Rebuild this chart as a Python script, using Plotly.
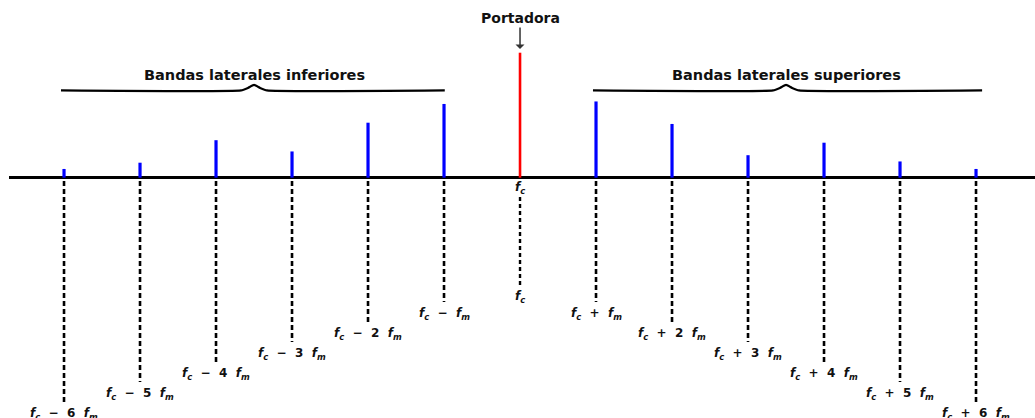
import plotly.graph_objects as go

# Spectrum of an FM signal: carrier plus six side-band pairs
harmonics = [-6, -5, -4, -3, -2, -1, 0, 1, 2, 3, 4, 5, 6]
amplitudes = [0.07, 0.12, 0.30, 0.21, 0.44, 0.59, 1.00, 0.61, 0.43, 0.18, 0.28, 0.13, 0.07]
freq_labels = [
    "f_c − 6 f_m", "f_c − 5 f_m", "f_c − 4 f_m", "f_c − 3 f_m", "f_c − 2 f_m", "f_c − f_m",
    "f_c",
    "f_c + f_m", "f_c + 2 f_m", "f_c + 3 f_m", "f_c + 4 f_m", "f_c + 5 f_m", "f_c + 6 f_m",
]
carrier_title = "Portadora"
lower_title = "Bandas laterales inferiores"
upper_title = "Bandas laterales superiores"

# layout constants (y in carrier-amplitude units)
LEADER_TOP = -0.026
LEADER_BASE = -0.834
LEADER_STEP = 0.16
LABEL_GAP = 0.096
BRACE_Y = 0.698
BRACE_PEAK = 0.742
TITLE_Y = 0.82


def rich(label):
    """Render 'f_c − 2 f_m' style text with italic f and subscripts."""
    parts = []
    for tok in label.split(" "):
        if tok.startswith("f_"):
            parts.append("<i>f</i><sub><i>%s</i></sub>" % tok[2:])
        else:
            parts.append(tok)
    return "<b>" + "&nbsp;&nbsp;".join(parts) + "</b>"


fig = go.Figure()

# side-band stems
sx, sy = [], []
for k, a in zip(harmonics, amplitudes):
    if k != 0:
        sx += [k, k, None]
        sy += [0, a, None]
fig.add_trace(go.Scatter(x=sx, y=sy, mode="lines",
                         line=dict(color="#0000FF", width=3.2), hoverinfo="skip"))

# carrier stem
c = harmonics.index(0)
fig.add_trace(go.Scatter(x=[0, 0], y=[0, amplitudes[c]], mode="lines",
                         line=dict(color="#FF0000", width=2.6), hoverinfo="skip"))

# leader lines down to the frequency labels
lx, ly = [], []
for k in harmonics:
    if k != 0:
        end = LEADER_BASE - LEADER_STEP * abs(k)
        lx += [k, k, None]
        ly += [LEADER_TOP, end, None]
fig.add_trace(go.Scatter(x=lx, y=ly, mode="lines",
                         line=dict(color="black", width=2.6, dash="5px,3px"), hoverinfo="skip"))
fig.add_trace(go.Scatter(x=[0, 0], y=[-0.154, -0.874], mode="lines",
                         line=dict(color="black", width=2.4, dash="4px,3px"), hoverinfo="skip"))

# braces over each side-band group
for sign in (-1, 1):
    lo, hi = sorted([sign * 1, sign * 6])
    lo -= 0.04
    hi += 0.08 if sign > 0 else 0.01
    mid = sign * 3.5
    fig.add_trace(go.Scatter(
        x=[lo, mid - 0.17, mid - 0.08, mid, mid + 0.08, mid + 0.17, hi],
        y=[BRACE_Y, BRACE_Y, BRACE_Y + 0.02, BRACE_PEAK, BRACE_Y + 0.02, BRACE_Y, BRACE_Y],
        mode="lines", line=dict(color="black", width=2.2, shape="spline", smoothing=0.4),
        hoverinfo="skip"))

annotations = []
for k, lab in zip(harmonics, freq_labels):
    if k == 0:
        ys = [-0.082, -0.954]
    else:
        ys = [LEADER_BASE - LEADER_STEP * abs(k) - LABEL_GAP]
    for yv in ys:
        annotations.append(dict(x=k, y=yv, text=rich(lab), showarrow=False,
                                xanchor="center", yanchor="middle",
                                font=dict(family="DejaVu Sans", size=12, color="#111")))

for sign, title in ((-1, lower_title), (1, upper_title)):
    annotations.append(dict(x=sign * 3.5, y=TITLE_Y, text="<b>%s</b>" % title,
                            showarrow=False, xanchor="center", yanchor="middle",
                            font=dict(family="DejaVu Sans", size=14.5, color="#111")))

annotations.append(dict(x=0, y=amplitudes[c] + 0.03, text="<b>%s</b>" % carrier_title,
                        showarrow=True, ax=0, ay=-31, arrowhead=1, arrowsize=1,
                        arrowwidth=1.5, arrowcolor="#333", standoff=0,
                        font=dict(family="DejaVu Sans", size=14, color="#111")))

fig.update_layout(
    width=1035, height=418,
    margin=dict(l=0, r=0, t=0, b=0),
    paper_bgcolor="white", plot_bgcolor="white",
    showlegend=False,
    annotations=annotations,
    xaxis=dict(range=[-6.724, 6.776], domain=[9 / 1035, 1], visible=False, fixedrange=True),
    yaxis=dict(range=[-1.9224, 1.4216], showgrid=False, showticklabels=False, ticks="",
               zeroline=True, zerolinecolor="black", zerolinewidth=3, fixedrange=True),
)

fig.write_html("out.html")
